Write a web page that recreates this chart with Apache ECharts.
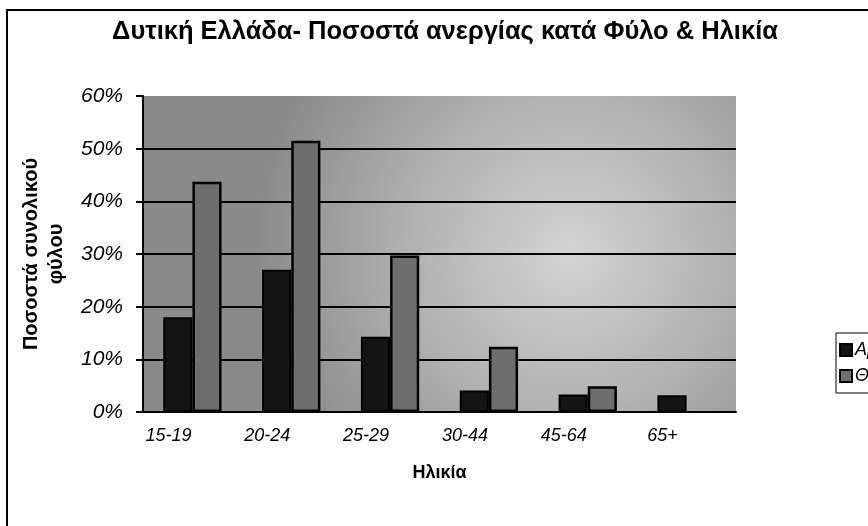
<!DOCTYPE html>
<html>
<head>
<meta charset="utf-8">
<script src="https://cdn.jsdelivr.net/npm/echarts@6/dist/echarts.min.js"></script>
<style>
  html, body { margin: 0; padding: 0; background: #fff; }
  #chart { width: 868px; height: 526px; }
</style>
</head>
<body>
<div id="chart"></div>
<script>
// ηλικιακές ομάδες
const ageGroups = ['15-19', '20-24', '25-29', '30-44', '45-64', '65+']
// ποσοστά ανεργίας (%) - στο 65+ δεν υπάρχει ράβδος για τις γυναίκες
const males = [18, 27, 14.3, 4.1, 3.3, 3.2]
const females = [43.7, 51.5, 29.7, 12.4, 4.9, null]
const yTicks = [0, 10, 20, 30, 40, 50, 60]

const font = '"Liberation Sans", Arial, sans-serif'

let chart = echarts.init(document.getElementById('chart'))
let option = {
  backgroundColor: '#fff',
  animation: false,
  title: {
    text: 'Δυτική Ελλάδα- Ποσοστά ανεργίας κατά Φύλο & Ηλικία',
    left: 440,
    textAlign: 'center',
    top: 14,
    textStyle: {
      fontFamily: font,
      fontSize: 25.5,
      fontWeight: 'bold',
      color: '#000'
    }
  },
  legend: {
    orient: 'vertical',
    left: 836,
    top: 333,
    padding: [8, 4, 8, 3],
    itemGap: 8,
    itemWidth: 12,
    itemHeight: 12,
    borderColor: '#000',
    borderWidth: 1,
    backgroundColor: '#fff',
    icon: 'rect',
    textStyle: {
      fontFamily: font,
      fontSize: 18,
      fontStyle: 'italic',
      color: '#000',
      padding: [0, 0, 0, -2]
    },
    data: ['Αρρενες', 'Θήλεις']
  },
  grid: {
    left: 143,
    right: 132,
    top: 96,
    bottom: 114,
    show: true,
    borderWidth: 0,
    backgroundColor: {
      type: 'radial',
      x: 0.72,
      y: 0.5,
      r: 1.0,
      colorStops: [
        { offset: 0, color: '#d4d4d4' },
        { offset: 0.5, color: '#b2b2b2' },
        { offset: 1, color: '#8a8a8a' }
      ]
    }
  },
  xAxis: {
    type: 'category',
    data: ageGroups,
    name: 'Ηλικία',
    nameLocation: 'middle',
    nameGap: 52,
    nameTextStyle: {
      fontFamily: font,
      fontSize: 18,
      fontWeight: 'bold',
      color: '#000'
    },
    axisLine: { lineStyle: { color: '#000', width: 2 } },
    axisTick: { length: 7, lineStyle: { color: '#000', width: 2 } },
    axisLabel: {
      margin: 15,
      fontFamily: font,
      fontSize: 18,
      fontStyle: 'italic',
      color: '#000',
      padding: [0, 48, 0, 0]
    }
  },
  yAxis: {
    type: 'value',
    min: yTicks[0],
    max: yTicks[yTicks.length - 1],
    interval: 10,
    name: 'Ποσοστά συνολικού\nφύλου',
    nameLocation: 'middle',
    nameGap: 74,
    nameTextStyle: {
      fontFamily: font,
      fontSize: 20,
      fontWeight: 'bold',
      color: '#000',
      lineHeight: 25
    },
    axisLine: { show: true, lineStyle: { color: '#000', width: 2 } },
    axisTick: { show: true, length: 7, lineStyle: { color: '#000', width: 2 } },
    axisLabel: {
      margin: 20,
      formatter: '{value}%',
      fontFamily: font,
      fontSize: 21,
      fontStyle: 'italic',
      color: '#000'
    },
    splitLine: {
      lineStyle: {
        color: ['#000', '#000', '#000', '#000', '#000', '#000', 'rgba(0,0,0,0)'],
        width: 2
      }
    }
  },
  graphic: [
    {
      type: 'rect',
      shape: { x: 7, y: 10, width: 900, height: 600 },
      style: { fill: 'none', stroke: '#000', lineWidth: 2 },
      silent: true,
      z: 100
    }
  ],
  series: [
    {
      name: 'Αρρενες',
      type: 'bar',
      data: males,
      barGap: '0%',
      barCategoryGap: '41%',
      itemStyle: {
        color: '#141414',
        borderColor: '#000',
        borderWidth: 2
      }
    },
    {
      name: 'Θήλεις',
      type: 'bar',
      data: females,
      itemStyle: {
        color: '#6e6e6e',
        borderColor: '#000',
        borderWidth: 2.5
      }
    }
  ]
}
chart.setOption(option)
</script>
</body>
</html>
